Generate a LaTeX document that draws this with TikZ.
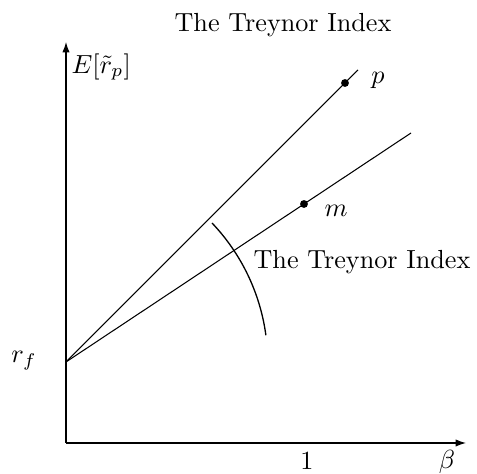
\documentclass[tikz,border=0pt]{standalone}
\usetikzlibrary{arrows.meta}
\begin{document}
\begin{tikzpicture}[x=0.382pt,y=-0.382pt,
  axis/.style={line width=0.4pt,-{Latex[length=4pt,width=2.8pt]}},
  ln/.style={line width=0.4pt},
  dot/.style={circle,fill=black,inner sep=0pt,minimum size=3pt},
  lbl/.style={inner sep=0pt}]
\useasboundingbox (0,0) rectangle (477,474);
% axes
\coordinate (O) at (66,443);
\coordinate (ytop) at (66,42);
\coordinate (xend) at (466,443);
\coordinate (rf) at (66,362);
\coordinate (pend) at (358,70);
\coordinate (mend) at (411,133);
\draw[axis] (O) -- (ytop);
\draw[axis] (O) -- (xend);
% lines
\draw[ln] (rf) -- (pend);
\draw[ln] (rf) -- (mend);
\node[dot] (p) at (345,83) {};
\node[dot] (m) at (304,204) {};
% arc
\draw[line width=0.5pt] (212,223) arc[start angle=-43.6, end angle=-7.7, radius=202];
% labels
\node[lbl] (title) at (283,25) {The Treynor Index};
\node[lbl,anchor=west] (ey) at (71,67) {$E[\tilde r_p]$};
\node[lbl] (pl) at (378,80) {$p$};
\node[lbl] (ml) at (336,211) {$m$};
\node[lbl] (ti) at (362,262) {The Treynor Index};
\node[lbl] (rfl) at (24,361) {$r_f$};
\node[lbl] (one) at (307,461) {$1$};
\node[lbl] (beta) at (447,462) {$\beta$};
\end{tikzpicture}
\end{document}
